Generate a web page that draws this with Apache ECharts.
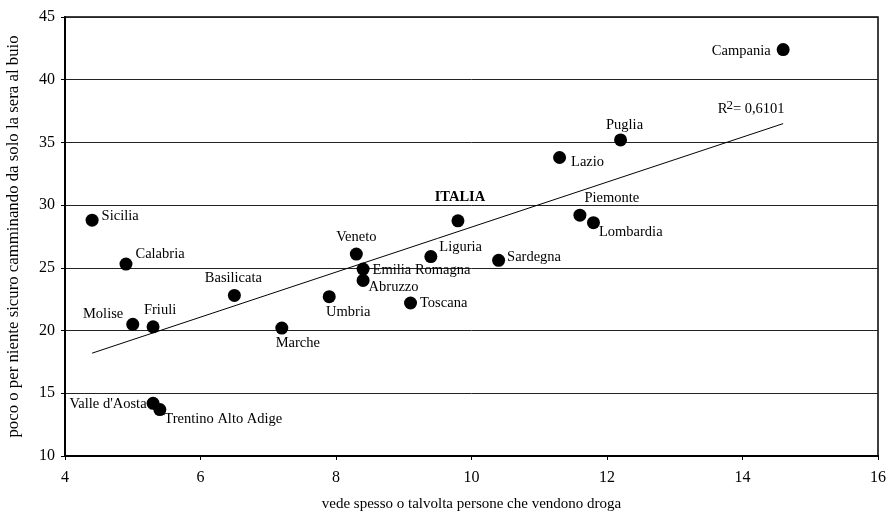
<!DOCTYPE html>
<html>
<head>
<meta charset="utf-8">
<script src="https://cdn.jsdelivr.net/npm/echarts@6/dist/echarts.min.js"></script>
<style>html,body{margin:0;padding:0;background:#fff}#c{width:892px;height:514px}</style>
</head>
<body>
<div id="c"></div>
<script>
const regions = ['Sicilia','Calabria','Basilicata','Molise','Friuli','Marche',"Valle d'Aosta",'Trentino Alto Adige','Veneto','Emilia Romagna','Abruzzo','Umbria','Toscana','Liguria','Sardegna','ITALIA','Piemonte','Lombardia','Lazio','Puglia','Campania'];
const xValues = [4.4, 4.9, 6.5, 5.0, 5.3, 7.2, 5.3, 5.4, 8.3, 8.4, 8.4, 7.9, 9.1, 9.4, 10.4, 9.8, 11.6, 11.8, 11.3, 12.2, 14.6];
const yValues = [28.8, 25.3, 22.8, 20.5, 20.3, 20.2, 14.2, 13.7, 26.1, 24.9, 24.0, 22.7, 22.2, 25.9, 25.6, 28.75, 29.2, 28.6, 33.8, 35.2, 42.4];
const trendX = [4.4, 14.6];
const trendY = [18.2, 36.5];
const xTicks = [4, 6, 8, 10, 12, 14, 16];
const yTicks = [10, 15, 20, 25, 30, 35, 40, 45];
const rSquared = '0,6101';

// label placement per region (layout, not data)
const labelLayout = {
  'Sicilia': {position:'right', distance:3, offset:[0,-4]},
  'Calabria': {position:'right', distance:3, offset:[0,-10]},
  'Basilicata': {position:'top', distance:3, offset:[-1,0]},
  'Molise': {position:'left', distance:3, offset:[0,-10]},
  'Friuli': {position:'top', distance:3, offset:[7,0]},
  'Marche': {position:'bottom', distance:1, offset:[16,0]},
  "Valle d'Aosta": {position:'left', distance:0, offset:[0,1]},
  'Trentino Alto Adige': {position:'right', distance:-2, offset:[0,10]},
  'Veneto': {position:'top', distance:3, offset:[0,0]},
  'Emilia Romagna': {position:'right', distance:3, offset:[0,1]},
  'Abruzzo': {position:'right', distance:-1, offset:[0,7]},
  'Umbria': {position:'bottom', distance:1, offset:[19,0]},
  'Toscana': {position:'right', distance:3, offset:[0,0]},
  'Liguria': {position:'right', distance:2, offset:[0,-9]},
  'Sardegna': {position:'right', distance:2, offset:[0,-3]},
  'ITALIA': {position:'top', distance:10, offset:[2,0]},
  'Piemonte': {position:'top', distance:3, offset:[32,0]},
  'Lombardia': {position:'right', distance:-1, offset:[0,9]},
  'Lazio': {position:'right', distance:5, offset:[0,5]},
  'Puglia': {position:'top', distance:1, offset:[4,0]},
  'Campania': {position:'left', distance:6, offset:[0,2]}
};

const FONT = '"Liberation Serif", "Times New Roman", serif';

const pts = regions.map((name, i) => {
  const l = labelLayout[name];
  return {
    name: name,
    value: [xValues[i], yValues[i]],
    label: {
      show: true,
      position: l.position,
      distance: l.distance,
      offset: l.offset,
      formatter: name,
      fontFamily: FONT,
      fontSize: 14.5,
      color: '#000',
      fontWeight: name === 'ITALIA' ? 'bold' : 'normal'
    }
  };
});

const trendData = trendX.map((x, i) => [x, trendY[i]]);
const trendEnd = trendData[trendData.length - 1];

const chart = echarts.init(document.getElementById('c'), null, {renderer: 'canvas'});
chart.setOption({
  animation: false,
  backgroundColor: '#fff',
  grid: {left: 65, right: 14, top: 17, bottom: 58, containLabel: false, outerBoundsMode: 'none',
         show: true, borderColor: '#000', borderWidth: 1.5},
  xAxis: {
    type: 'value', min: xTicks[0], max: xTicks[xTicks.length - 1], interval: 2,
    name: 'vede spesso o talvolta persone che vendono droga',
    nameLocation: 'middle', nameGap: 41,
    nameTextStyle: {fontFamily: FONT, fontSize: 15, color: '#000'},
    axisLine: {show: true, lineStyle: {color: '#000', width: 2}},
    axisTick: {show: true, inside: false, length: 4, lineStyle: {color: '#000'}},
    axisLabel: {fontFamily: FONT, fontSize: 16, color: '#000', margin: 14},
    splitLine: {show: false}
  },
  yAxis: {
    type: 'value', min: yTicks[0], max: yTicks[yTicks.length - 1], interval: 5,
    name: 'poco o per niente sicuro camminando da solo la sera al buio',
    nameLocation: 'middle', nameGap: 43, nameRotate: 90,
    nameTextStyle: {fontFamily: FONT, fontSize: 16.8, color: '#000'},
    axisLine: {show: true, lineStyle: {color: '#000', width: 2}},
    axisTick: {show: true, inside: false, length: 4, lineStyle: {color: '#000'}},
    axisLabel: {fontFamily: FONT, fontSize: 16, color: '#000', margin: 10},
    splitLine: {show: true, lineStyle: {color: '#222', width: 1}}
  },
  series: [
    {
      type: 'line',
      data: trendData,
      showSymbol: false, symbol: 'none',
      lineStyle: {color: '#000', width: 1},
      z: 1, silent: true
    },
    {
      type: 'scatter',
      data: [{
        value: trendEnd,
        label: {
          show: true, position: 'top', distance: 4, offset: [-32, 0], color: '#000',
          formatter: '{a|R}{b|2}{a|= ' + rSquared + '}',
          rich: {
            a: {fontFamily: FONT, fontSize: 14.5, color: '#000'},
            b: {fontFamily: FONT, fontSize: 13, color: '#000', padding: [0, 0, 8, -1]}
          }
        }
      }],
      symbolSize: 0, silent: true, z: 2,
      itemStyle: {color: '#000', opacity: 1}
    },
    {
      type: 'scatter',
      data: pts,
      symbol: 'circle', symbolSize: 13,
      itemStyle: {color: '#000', opacity: 1},
      z: 3
    }
  ]
});
</script>
</body>
</html>
